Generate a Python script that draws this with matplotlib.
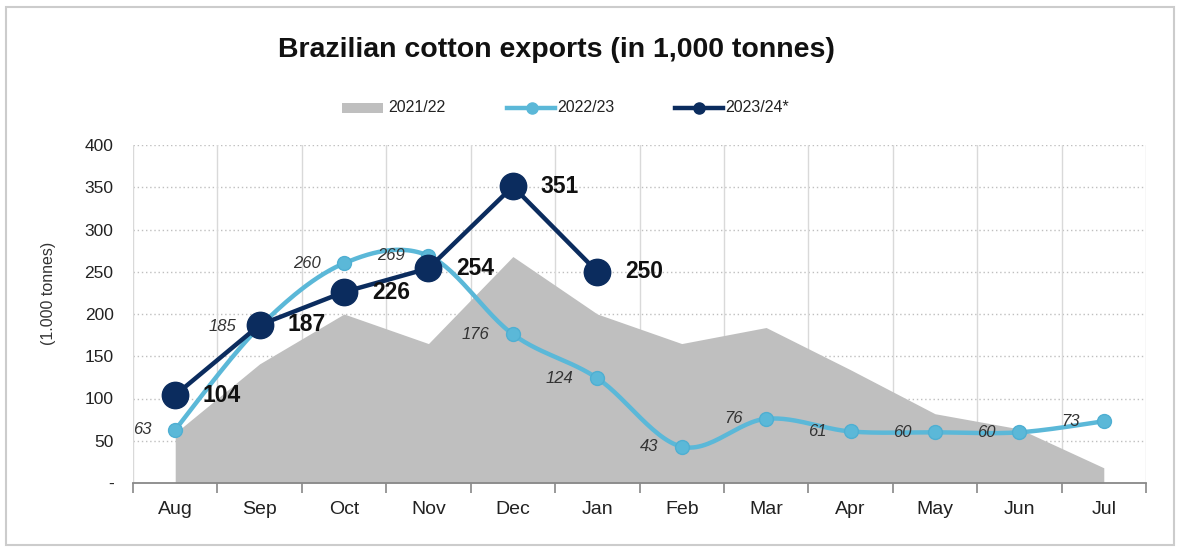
import matplotlib.pyplot as plt
import numpy as np
from matplotlib.lines import Line2D
from matplotlib.patches import Rectangle

plt.rcParams['font.family'] = ['Liberation Sans', 'DejaVu Sans']

months = ['Aug', 'Sep', 'Oct', 'Nov', 'Dec', 'Jan', 'Feb', 'Mar', 'Apr', 'May', 'Jun', 'Jul']
s2122 = [59, 141, 200, 165, 268, 200, 165, 184, 134, 82, 64, 18]
s2223 = [63, 185, 260, 269, 176, 124, 43, 76, 61, 60, 60, 73]
s2324 = [104, 187, 226, 254, 351, 250]

c_gray = '#BFBFBF'
c_light = '#5BB8D8'
c_dark = '#0B2C5E'


def smooth(xs, ys, n=30):
    # catmull-rom curve through the points, like excel's smoothed line
    p = np.column_stack([xs, ys]).astype(float)
    p = np.vstack([p[0], p, p[-1]])
    out = []
    t = np.linspace(0, 1, n)[:, None]
    for i in range(1, len(p) - 2):
        p0, p1, p2, p3 = p[i - 1], p[i], p[i + 1], p[i + 2]
        m1 = (p2 - p0) / 2
        m2 = (p3 - p1) / 2
        h00 = 2 * t**3 - 3 * t**2 + 1
        h10 = t**3 - 2 * t**2 + t
        h01 = -2 * t**3 + 3 * t**2
        h11 = t**3 - t**2
        out.append(h00 * p1 + h10 * m1 + h01 * p2 + h11 * m2)
    out = np.vstack(out)
    return out[:, 0], out[:, 1]


fig = plt.figure(figsize=(11.78, 5.47), dpi=100)
ax = fig.add_axes([133 / 1178, 1 - 483 / 547, (1146 - 133) / 1178, (483 - 145) / 547])

x = np.arange(len(months))
ax.fill_between(x, s2122, 0, color=c_gray, lw=0, zorder=2)

sx, sy = smooth(x, s2223)
ax.plot(sx, sy, color=c_light, lw=3.2, zorder=3, solid_capstyle='round')
ax.plot(x, s2223, 'o', color=c_light, ms=10, mec='#4FAFD2', zorder=4)

x3 = np.arange(len(s2324))
ax.plot(x3, s2324, '-o', color=c_dark, lw=3.2, ms=19, zorder=5)

for xi, v in zip(x, s2223):
    ax.annotate(str(v), (xi, v), xytext=(-17, 0), textcoords='offset points',
                ha='right', va='center', fontsize=12, style='italic', color='#333333', zorder=6)
for xi, v in zip(x3, s2324):
    ax.annotate(str(v), (xi, v), xytext=(20, 0), textcoords='offset points',
                ha='left', va='center', fontsize=16.5, fontweight='bold', color='#111111', zorder=6)

ax.set_xlim(-0.5, 11.5)
ax.set_ylim(0, 400)
ax.set_yticks(np.arange(0, 401, 50))
ax.set_yticklabels(['-'] + [str(v) for v in range(50, 401, 50)])
ax.set_xticks(x)
ax.set_xticklabels(months)
ax.set_xticks(np.arange(-0.5, 12, 1), minor=True)
ax.tick_params(axis='x', which='major', length=0, pad=13, labelsize=14, colors='#222222')
ax.tick_params(axis='x', which='minor', length=7, width=1.2, color='#888888')
ax.tick_params(axis='y', length=0, pad=14, labelsize=12.5, colors='#222222')

for yv in range(50, 401, 50):
    ax.axhline(yv, color='#BFBFBF', lw=1, ls=(0, (1, 2)), zorder=1)
for xv in np.arange(-0.5, 12, 1):
    ax.axvline(xv, color='#D9D9D9', lw=1, zorder=1)

for s in ['top', 'right', 'left']:
    ax.spines[s].set_visible(False)
ax.spines['bottom'].set_color('#888888')
ax.spines['bottom'].set_linewidth(1.3)

fig.text(48 / 1178, 1 - 293 / 547, '(1.000 tonnes)', rotation=90, ha='center', va='center',
         fontsize=11.5, color='#333333')
fig.text(556 / 1178, 1 - 50 / 547, 'Brazilian cotton exports (in 1,000 tonnes)', ha='center',
         va='center', fontsize=20.5, fontweight='bold', color='#111111')

# legend, placed by hand
ly = 1 - 108 / 547
fig.add_artist(Rectangle((342 / 1178, ly - 5 / 547), 41 / 1178, 10 / 547, transform=fig.transFigure,
                         color=c_gray, lw=0))
fig.text(388 / 1178, ly, '2021/22', ha='left', va='center', fontsize=11.5, color='#222222')
fig.add_artist(Line2D([507 / 1178, 555 / 1178], [ly, ly], transform=fig.transFigure, color=c_light, lw=3.2))
fig.add_artist(Line2D([532 / 1178], [ly], transform=fig.transFigure, marker='o', color=c_light, ms=8))
fig.text(557 / 1178, ly, '2022/23', ha='left', va='center', fontsize=11.5, color='#222222')
fig.add_artist(Line2D([675 / 1178, 723 / 1178], [ly, ly], transform=fig.transFigure, color=c_dark, lw=3.2))
fig.add_artist(Line2D([699 / 1178], [ly], transform=fig.transFigure, marker='o', color=c_dark, ms=8))
fig.text(725 / 1178, ly, '2023/24*', ha='left', va='center', fontsize=11.5, color='#222222')

fig.add_artist(Rectangle((6 / 1178, 2 / 547), 1168 / 1178, 538 / 547, transform=fig.transFigure,
                         fill=False, ec='#CCCCCC', lw=1.5))

fig.savefig('out.png', dpi=100)
